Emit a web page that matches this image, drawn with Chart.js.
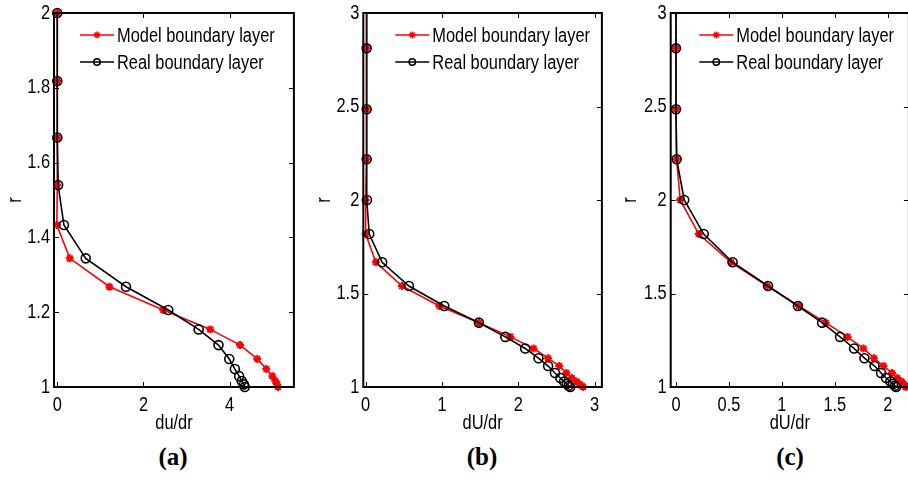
<!DOCTYPE html>
<html><head><meta charset="utf-8">
<script src="https://cdn.jsdelivr.net/npm/chart.js@4/dist/chart.umd.min.js"></script>
<style>
html,body{margin:0;padding:0;width:908px;height:480px;overflow:hidden;background:#fff;}
#wrap{position:relative;width:908px;height:480px;overflow:hidden;}
canvas{position:absolute;top:0;}
.lab{position:absolute;top:457px;font:bold 25px "Liberation Serif","Times New Roman",serif;color:#000;transform:translate(-50%,-50%);white-space:nowrap;}
</style></head><body>
<div id="wrap">
<canvas id="ca" width="300" height="440" style="left:0px"></canvas>
<canvas id="cb" width="300" height="440" style="left:308px"></canvas>
<canvas id="cc" width="301" height="440" style="left:614px"></canvas>
<div class="lab" style="left:173px">(a)</div>
<div class="lab" style="left:482px">(b)</div>
<div class="lab" style="left:790px">(c)</div>
</div>
<script>
// ---- data ----
const seriesNames = ['Model boundary layer', 'Real boundary layer'];
const panelLabels = ['(a)', '(b)', '(c)'];
const xTitles = ['du/dr', 'dU/dr', 'dU/dr'];
const yTitle = 'r';

const rA = [2.0, 1.818, 1.667, 1.540, 1.433, 1.344, 1.268, 1.206, 1.154, 1.112, 1.075, 1.048, 1.029, 1.016, 1.007, 1.0];
const modelA = [0, 0, 0, 0, -0.01, 0.29, 1.21, 2.46, 3.55, 4.24, 4.64, 4.85, 4.99, 5.06, 5.10, 5.12];
const realA = [0, 0, 0, 0.02, 0.154, 0.66, 1.595, 2.575, 3.28, 3.74, 3.99, 4.12, 4.22, 4.28, 4.33, 4.35];

const rBC = [3.2, 2.811, 2.485, 2.218, 2.0, 1.818, 1.667, 1.540, 1.433, 1.344, 1.268, 1.206, 1.154, 1.112, 1.075, 1.048, 1.029, 1.016, 1.007, 1.0];
const modelB = [0.01, 0.01, 0.01, 0.01, 0, 0, 0.134, 0.476, 0.965, 1.484, 1.896, 2.2, 2.39, 2.536, 2.63, 2.70, 2.76, 2.80, 2.83, 2.85];
const realB = [0.013, 0.013, 0.013, 0.013, 0.017, 0.047, 0.216, 0.566, 1.03, 1.484, 1.83, 2.09, 2.264, 2.39, 2.48, 2.55, 2.60, 2.635, 2.66, 2.68];
const modelC = [0, 0, 0, 0.006, 0.04, 0.215, 0.52, 0.863, 1.159, 1.414, 1.62, 1.77, 1.87, 1.96, 2.04, 2.09, 2.13, 2.15, 2.165, 2.17];
const realC = [0, 0, 0, 0.006, 0.078, 0.262, 0.535, 0.869, 1.152, 1.38, 1.55, 1.682, 1.78, 1.876, 1.937, 1.984, 2.025, 2.05, 2.068, 2.08];

const xTicksA = [0, 2, 4];
const xTickLabelsA = ['0', '2', '4'];
const yTicksA = [1, 1.2, 1.4, 1.6, 1.8, 2];
const yTickLabelsA = ['1', '1.2', '1.4', '1.6', '1.8', '2'];
const xTicksB = [0, 1, 2, 3];
const xTickLabelsB = ['0', '1', '2', '3'];
const xTicksC = [0, 0.5, 1, 1.5, 2];
const xTickLabelsC = ['0', '0.5', '1', '1.5', '2'];
const yTicksBC = [1, 1.5, 2, 2.5, 3];
const yTickLabelsBC = ['1', '1.5', '2', '2.5', '3'];

// ---- styling / drawing ----
const FONT = '20px "Liberation Sans",Arial,sans-serif';
const SQUEEZE = 0.82;

function narrowText(ctx, text, x, y, align, rotate) {
  ctx.save();
  ctx.translate(x, y);
  if (rotate) ctx.rotate(-Math.PI / 2);
  ctx.scale(SQUEEZE, 1);
  ctx.font = FONT;
  ctx.fillStyle = '#000';
  ctx.textAlign = align;
  ctx.textBaseline = 'middle';
  ctx.fillText(text, 0, 0);
  ctx.restore();
}

const framePlugin = {
  id: 'frame',
  afterDatasetsDraw(chart) {
    const {ctx, chartArea: a, scales} = chart;
    ctx.save();
    ctx.strokeStyle = '#000';
    ctx.lineWidth = 1;
    const tl = 5;
    scales.x.ticks.forEach(t => {
      const px = Math.round(scales.x.getPixelForValue(t.value)) + 0.5;
      ctx.beginPath();
      ctx.moveTo(px, a.bottom); ctx.lineTo(px, a.bottom - tl);
      ctx.moveTo(px, a.top); ctx.lineTo(px, a.top + tl);
      ctx.stroke();
    });
    scales.y.ticks.forEach(t => {
      const py = Math.round(scales.y.getPixelForValue(t.value)) + 0.5;
      ctx.beginPath();
      ctx.moveTo(a.left, py); ctx.lineTo(a.left + tl, py);
      ctx.moveTo(a.right, py); ctx.lineTo(a.right - tl, py);
      ctx.stroke();
    });
    ctx.lineWidth = 2;
    ctx.strokeRect(a.left, a.top, a.right - a.left, a.bottom - a.top);
    ctx.restore();
  }
};

const labelPlugin = {
  id: 'mlabels',
  afterDraw(chart, args, opts) {
    const {ctx, chartArea: a, scales} = chart;
    scales.x.ticks.forEach((t, i) => {
      narrowText(ctx, opts.xLabels[i], scales.x.getPixelForValue(t.value), a.bottom + 18, 'center', false);
    });
    scales.y.ticks.forEach((t, i) => {
      narrowText(ctx, opts.yLabels[i], a.left - 4, scales.y.getPixelForValue(t.value), 'right', false);
    });
    narrowText(ctx, opts.xTitle, (a.left + a.right) / 2, a.bottom + 36, 'center', false);
    narrowText(ctx, opts.yTitle, opts.yTitleX, (a.top + a.bottom) / 2, 'center', true);
  }
};

function drawStar(ctx, x, y, r) {
  ctx.beginPath();
  ctx.moveTo(x - r, y); ctx.lineTo(x + r, y);
  ctx.moveTo(x, y - r); ctx.lineTo(x, y + r);
  const d = r * 0.707;
  ctx.moveTo(x - d, y - d); ctx.lineTo(x + d, y + d);
  ctx.moveTo(x - d, y + d); ctx.lineTo(x + d, y - d);
  ctx.stroke();
}

const legendPlugin = {
  id: 'mlegend',
  afterDraw(chart, args, opts) {
    const {ctx, chartArea: a} = chart;
    const x0 = a.left + opts.dx;
    const rows = [
      {text: seriesNames[0], color: '#ff0000', y: 35, marker: 'star'},
      {text: seriesNames[1], color: '#000000', y: 62, marker: 'circle'}
    ];
    ctx.save();
    rows.forEach(row => {
      ctx.strokeStyle = row.color;
      ctx.lineWidth = 1.5;
      ctx.beginPath();
      ctx.moveTo(x0, row.y); ctx.lineTo(x0 + 34, row.y);
      ctx.stroke();
      const cx = x0 + 17;
      if (row.marker === 'star') {
        ctx.lineWidth = 1.5;
        drawStar(ctx, cx, row.y, 3.5);
      } else {
        ctx.lineWidth = 1.5;
        ctx.beginPath(); ctx.arc(cx, row.y, 3.2, 0, Math.PI * 2); ctx.stroke();
      }
      narrowText(ctx, row.text, x0 + 37, row.y + 1, 'left', false);
    });
    ctx.restore();
  }
};

function makeChart(id, p) {
  const pts = arr => p.r.map((r, i) => ({x: arr[i], y: r}));
  return new Chart(document.getElementById(id), {
    type: 'scatter',
    data: {
      datasets: [
        {
          label: seriesNames[1], data: pts(p.real), showLine: true,
          borderColor: '#000', backgroundColor: 'rgba(0,0,0,0)', borderWidth: 1.6,
          pointStyle: 'circle', pointRadius: 4.5, pointBorderWidth: 1.6,
          pointBorderColor: '#000', pointBackgroundColor: 'rgba(0,0,0,0)',
          order: 0, clip: p.clip
        },
        {
          label: seriesNames[0], data: pts(p.model), showLine: true,
          borderColor: '#ff0000', backgroundColor: '#ff0000', borderWidth: 1.6,
          pointStyle: 'star', pointRadius: 4, pointBorderWidth: 2,
          pointBorderColor: '#ff0000', pointBackgroundColor: '#ff0000',
          order: 1, clip: p.clip
        }
      ]
    },
    options: {
      responsive: false, animation: false, events: [],
      layout: {padding: {top: 13, right: p.padRight, left: 0, bottom: 0}},
      plugins: {
        legend: {display: false}, tooltip: {enabled: false},
        mlegend: {dx: p.legendDx},
        mlabels: {xLabels: p.xTickLabels, yLabels: p.yTickLabels, xTitle: p.xTitle, yTitle: yTitle, yTitleX: p.yTitleX}
      },
      scales: {
        x: {
          type: 'linear', position: 'bottom', min: p.xMin, max: p.xMax,
          grid: {display: false, drawTicks: false}, border: {display: false},
          afterBuildTicks: s => { s.ticks = p.xTicks.map(v => ({value: v})); },
          afterFit: s => { s.height = 53; },
          ticks: {display: false},
          title: {display: false}
        },
        y: {
          type: 'linear', position: 'left', min: p.yMin, max: p.yMax,
          grid: {display: false, drawTicks: false}, border: {display: false},
          afterBuildTicks: s => { s.ticks = p.yTicks.map(v => ({value: v})); },
          afterFit: s => { s.width = p.yWidth; },
          ticks: {display: false},
          title: {display: false}
        }
      }
    },
    plugins: [framePlugin, labelPlugin, legendPlugin]
  });
}

makeChart('ca', {r: rA, model: modelA, real: realA, xMin: -0.076, xMax: 5.49, yMin: 1, yMax: 2,
  xTicks: xTicksA, xTickLabels: xTickLabelsA, yTicks: yTicksA, yTickLabels: yTickLabelsA,
  xTitle: xTitles[0], yWidth: 54, padRight: 4, legendDx: 26, yTitleX: 15,
  clip: {left: 6, right: 6, top: 6, bottom: 6}});
makeChart('cb', {r: rBC, model: modelB, real: realB, xMin: -0.031, xMax: 3.095, yMin: 1, yMax: 3,
  xTicks: xTicksB, xTickLabels: xTickLabelsB, yTicks: yTicksBC, yTickLabels: yTickLabelsBC,
  xTitle: xTitles[1], yWidth: 55.3, padRight: 4, legendDx: 32, yTitleX: 16,
  clip: {left: 6, right: 6, top: 0, bottom: 6}});
makeChart('cc', {r: rBC, model: modelC, real: realC, xMin: -0.05, xMax: 2.2, yMin: 1, yMax: 3,
  xTicks: xTicksC, xTickLabels: xTickLabelsC, yTicks: yTicksBC, yTickLabels: yTickLabelsBC,
  xTitle: xTitles[2], yWidth: 56.7, padRight: 4, legendDx: 28.6, yTitleX: 16,
  clip: {left: 6, right: 6, top: 0, bottom: 6}});
</script>
</body></html>
